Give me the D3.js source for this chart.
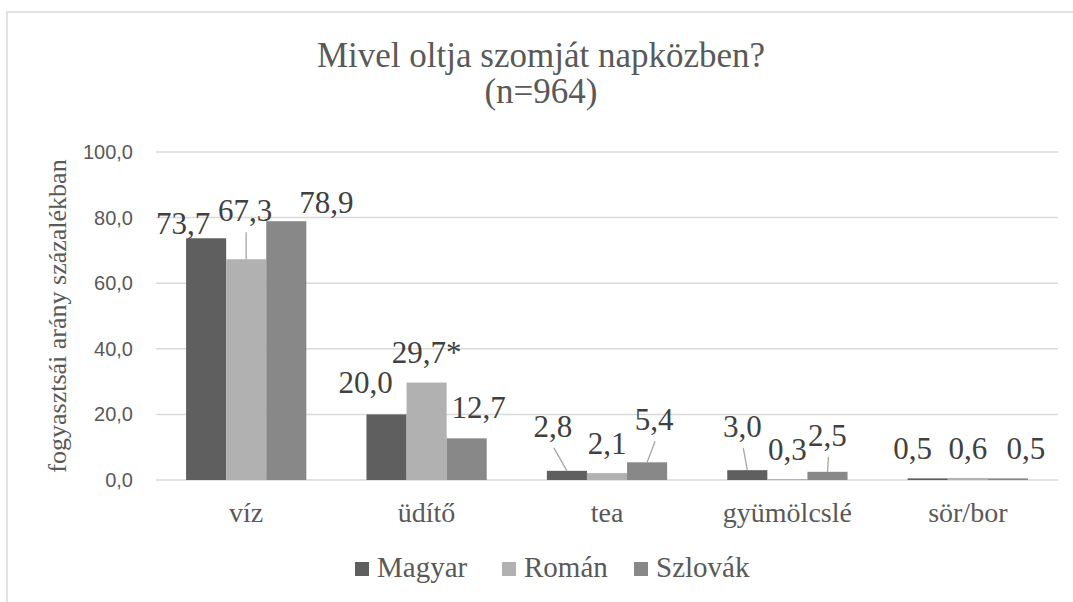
<!DOCTYPE html>
<html>
<head>
<meta charset="utf-8">
<script src="https://cdn.jsdelivr.net/npm/d3@7"></script>
<style>
  html, body { margin: 0; padding: 0; background: #fff; }
  svg { display: block; }
  .serif { font-family: "Liberation Serif", "DejaVu Serif", serif; }
  .sans { font-family: "Liberation Sans", "DejaVu Sans", sans-serif; }
</style>
</head>
<body>
<div id="chart"></div>
<script>
// =================================== DATA ===================================

const categories = ["víz", "üdítő", "tea", "gyümölcslé", "sör/bor"]
const seriesNames = ["Magyar", "Román", "Szlovák"]
const magyar = [73.7, 20.0, 2.8, 3.0, 0.5]
const roman = [67.3, 29.7, 2.1, 0.3, 0.6]
const szlovak = [78.9, 12.7, 5.4, 2.5, 0.5]
const romanNotes = ["", "*", "", "", ""]
const yTicks = [0, 20, 40, 60, 80, 100]

// =================================== STYLE ===================================

const colors = ["#5f5f5f", "#b1b1b1", "#888888"]

// label nudges (dx, dy from the top centre of each bar) + leader line flag, per series
const labelNudges = [
  [[-23, -4, 0], [-21, -21, 0], [-14, -34, 1], [-5, -33, 1], [-15, -19, 0]],
  [[-1, -38, 1], [0, -20, 0], [0, -19, 0], [0, -19, 0], [0, -19, 0]],
  [[40, -8, 0], [12, -20, 0], [7, -32, 1], [0, -26, 1], [18, -19, 0]]
]

// =================================== GRAPH SETTINGS ===================================

const width = 1073
const height = 602
const plot = { left: 156, right: 1058, top: 152, bottom: 480 }

const svg = d3.select("#chart").append("svg")
  .attr("width", width)
  .attr("height", height)

// chart border (runs off the right and bottom of the picture)
svg.append("rect")
  .attr("x", 7).attr("y", 12)
  .attr("width", 1100).attr("height", 640)
  .attr("fill", "#fff")
  .attr("stroke", "#d9d9d9")
  .attr("stroke-width", 1.5)

const x0 = d3.scaleBand().domain(categories).range([plot.left, plot.right])
const x1 = d3.scaleBand().domain(seriesNames)
  .range([x0.bandwidth() / 6, x0.bandwidth() * 5 / 6])
const y = d3.scaleLinear().domain([0, 100]).range([plot.bottom, plot.top])

const fmt = v => d3.format(".1f")(v).replace(".", ",")

// =================================== TITLE ===================================

svg.append("text")
  .attr("class", "serif")
  .attr("x", 541).attr("y", 67)
  .attr("text-anchor", "middle")
  .attr("font-size", 35)
  .attr("fill", "#595959")
  .text("Mivel oltja szomját napközben?")

svg.append("text")
  .attr("class", "serif")
  .attr("x", 541).attr("y", 103)
  .attr("text-anchor", "middle")
  .attr("font-size", 35)
  .attr("fill", "#595959")
  .text("(n=964)")

// =================================== AXES ===================================

svg.append("g")
  .selectAll("line")
  .data(yTicks)
  .enter().append("line")
  .attr("x1", plot.left).attr("x2", plot.right)
  .attr("y1", d => y(d)).attr("y2", d => y(d))
  .attr("stroke", "#d9d9d9")
  .attr("stroke-width", 1.5)

svg.append("g")
  .selectAll("text")
  .data(yTicks)
  .enter().append("text")
  .attr("class", "sans")
  .attr("x", 133)
  .attr("y", d => y(d))
  .attr("dy", "0.35em")
  .attr("text-anchor", "end")
  .attr("font-size", 20)
  .attr("fill", "#595959")
  .text(d => fmt(d))

svg.append("text")
  .attr("class", "serif")
  .attr("transform", "translate(66," + (plot.top + plot.bottom) / 2 + ") rotate(-90)")
  .attr("text-anchor", "middle")
  .attr("font-size", 26)
  .attr("fill", "#595959")
  .text("fogyasztsái arány százalékban")

svg.append("g")
  .selectAll("text")
  .data(categories)
  .enter().append("text")
  .attr("class", "serif")
  .attr("x", d => x0(d) + x0.bandwidth() / 2)
  .attr("y", 522)
  .attr("text-anchor", "middle")
  .attr("font-size", 28)
  .attr("fill", "#595959")
  .text(d => d)

// =================================== BARS ===================================

const values = [magyar, roman, szlovak]
const bars = []
seriesNames.forEach((s, si) => {
  categories.forEach((c, ci) => {
    bars.push({
      series: s, si: si, cat: c, ci: ci, value: values[si][ci],
      label: fmt(values[si][ci]) + (si === 1 ? romanNotes[ci] : "")
    })
  })
})

svg.append("g")
  .selectAll("rect")
  .data(bars)
  .enter().append("rect")
  .attr("x", d => x0(d.cat) + x1(d.series))
  .attr("y", d => y(d.value))
  .attr("width", x1.bandwidth())
  .attr("height", d => y(0) - y(d.value))
  .attr("fill", d => colors[d.si])

// =================================== LABELS ===================================

const cx = d => x0(d.cat) + x1(d.series) + x1.bandwidth() / 2

svg.append("g")
  .selectAll("line")
  .data(bars.filter(d => labelNudges[d.si][d.ci][2]))
  .enter().append("line")
  .attr("x1", d => cx(d) + labelNudges[d.si][d.ci][0] + 1)
  .attr("y1", d => y(d.value) + labelNudges[d.si][d.ci][1] + 11)
  .attr("x2", d => cx(d))
  .attr("y2", d => y(d.value))
  .attr("stroke", "#a6a6a6")
  .attr("stroke-width", 1.3)

svg.append("g")
  .selectAll("text")
  .data(bars)
  .enter().append("text")
  .attr("class", "serif")
  .attr("x", d => cx(d) + labelNudges[d.si][d.ci][0])
  .attr("y", d => y(d.value) + labelNudges[d.si][d.ci][1])
  .attr("text-anchor", "middle")
  .attr("font-size", 31)
  .attr("fill", "#404040")
  .text(d => d.label)

// =================================== LEGEND ===================================

const legendX = [355, 502, 634]
const legend = svg.append("g")
  .selectAll("g")
  .data(seriesNames)
  .enter().append("g")
  .attr("transform", (d, i) => "translate(" + legendX[i] + ",0)")

legend.append("rect")
  .attr("x", 0).attr("y", 562)
  .attr("width", 14).attr("height", 14)
  .attr("fill", (d, i) => colors[i])

legend.append("text")
  .attr("class", "serif")
  .attr("x", 22).attr("y", 577)
  .attr("font-size", 29)
  .attr("fill", "#595959")
  .text(d => d)
</script>
</body>
</html>
